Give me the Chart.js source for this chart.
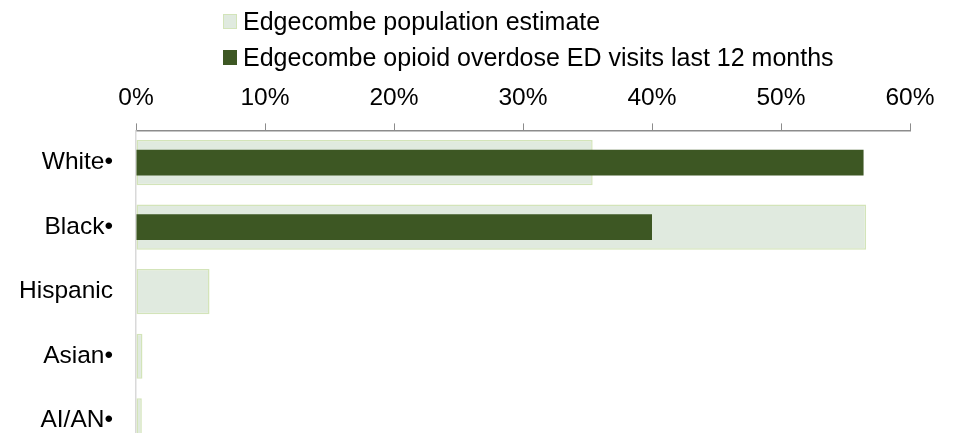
<!DOCTYPE html>
<html>
<head>
<meta charset="utf-8">
<script src="https://cdn.jsdelivr.net/npm/chart.js@4/dist/chart.umd.min.js"></script>
<style>
  html, body { margin: 0; padding: 0; background: #fff; overflow: hidden; }
  #wrap { position: relative; width: 955px; height: 460px; }
  #chart { display: block; width: 955px; height: 460px; }
  #legend { position: absolute; left: 223px; top: 3px; font-family: "Liberation Sans", Arial, sans-serif; font-size: 25px; color: #000; }
  .item { display: flex; align-items: center; height: 36px; }
  .box { width: 14px; height: 15px; margin-right: 6px; box-sizing: border-box; }
</style>
</head>
<body>
<div id="wrap">
  <canvas id="chart"></canvas>
  <div id="legend"></div>
</div>
<script>
// === Data ===
const categories = ['White•', 'Black•', 'Hispanic', 'Asian•', 'AI/AN•'];
const populationEstimate = [35.4, 56.6, 5.7, 0.5, 0.45];
const edVisits = [56.4, 40.0, 0, 0, 0];
const xTicks = [0, 10, 20, 30, 40, 50, 60];

const POP_FILL = '#e0eadf';
const POP_BORDER = '#d3e4b9';
const ED_FILL = '#3d5723';

// === Legend (HTML) ===
const legendItems = [
    { label: 'Edgecombe population estimate', fill: POP_FILL, border: POP_BORDER },
    { label: 'Edgecombe opioid overdose ED visits last 12 months', fill: ED_FILL, border: ED_FILL },
];
document.getElementById('legend').innerHTML = legendItems.map(it =>
    `<div class="item"><span class="box" style="background:${it.fill};border:1.5px solid ${it.border}"></span>${it.label}</div>`
).join('');

// === Chart ===
Chart.defaults.font.family = '"Liberation Sans", Arial, sans-serif';
Chart.defaults.font.size = 24.5;
Chart.defaults.color = '#000';

const canvas = document.getElementById('chart');
canvas.width = 955;
canvas.height = 460;

new Chart(canvas, {
    type: 'bar',
    data: {
        labels: categories,
        datasets: [
            {
                label: 'Edgecombe opioid overdose ED visits last 12 months',
                data: edVisits,
                backgroundColor: ED_FILL,
                borderWidth: 0,
                grouped: false,
                order: 0,
                categoryPercentage: 1,
                barPercentage: 0.4,
            },
            {
                label: 'Edgecombe population estimate',
                data: populationEstimate,
                backgroundColor: POP_FILL,
                borderColor: POP_BORDER,
                borderWidth: 1.5,
                borderSkipped: false,
                grouped: false,
                order: 1,
                categoryPercentage: 1,
                barPercentage: 0.7,
            },
        ]
    },
    options: {
        indexAxis: 'y',
        responsive: false,
        maintainAspectRatio: false,
        devicePixelRatio: 1,
        animation: false,
        // canvas is taller than the window: the last row gets cut like the original
        layout: { padding: { top: 74, right: 45, left: 0, bottom: 7 } },
        plugins: { legend: { display: false }, tooltip: { enabled: false } },
        scales: {
            x: {
                position: 'top',
                min: 0, max: 60,
                afterBuildTicks: (axis) => { axis.ticks = xTicks.map(v => ({ value: v })); },
                ticks: { callback: (v) => v + '%', padding: 10, maxRotation: 0 },
                grid: { drawOnChartArea: false, tickLength: 7, color: '#8c8c8c' },
                border: { color: '#8c8c8c', width: 1.5 },
            },
            y: {
                afterFit: (axis) => {
                    axis.width = 136;
                    axis.paddingTop = 0;
                    axis.paddingBottom = 0;
                },
                ticks: { padding: 15 },
                grid: { display: false },
                border: { color: '#d9d9d9', width: 1.5 },
            }
        }
    }
});
</script>
</body>
</html>
